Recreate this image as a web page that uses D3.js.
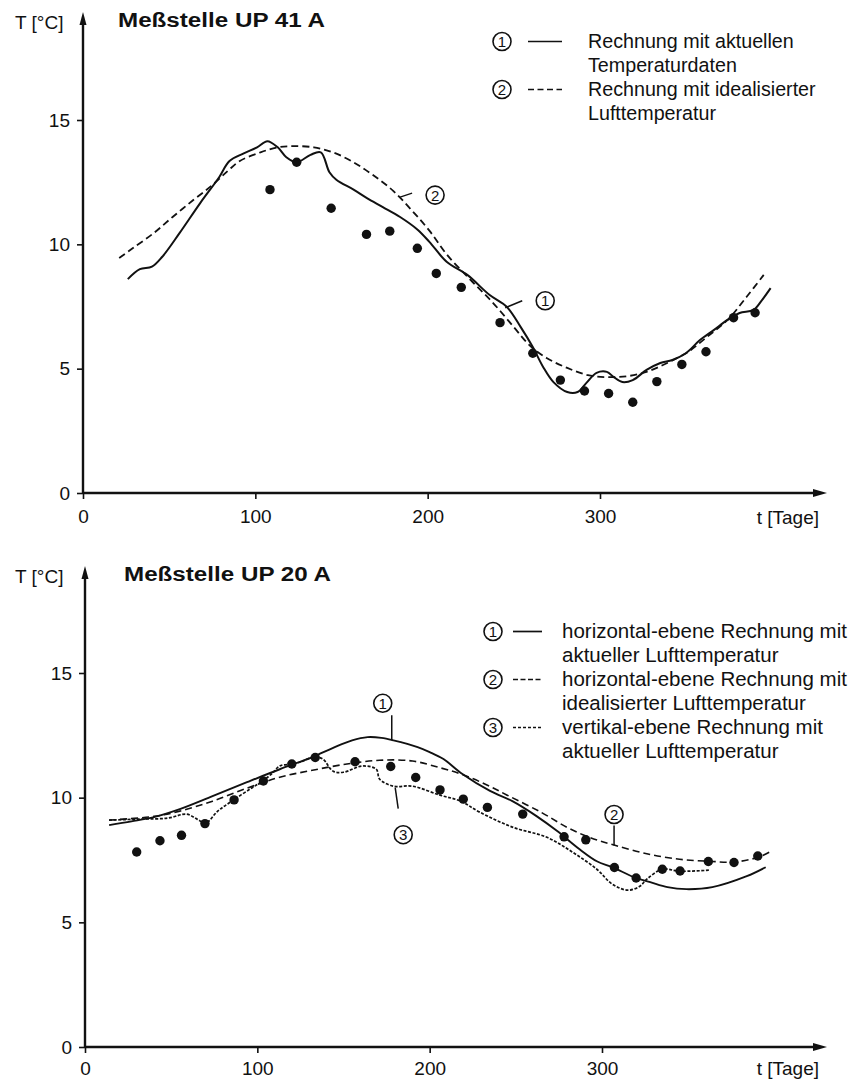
<!DOCTYPE html>
<html lang="de">
<head>
<meta charset="utf-8">
<title>Meßstellen UP 41 A / UP 20 A</title>
<script src="https://cdn.jsdelivr.net/npm/d3@7"></script>
<style>
    body { margin: 0; background: #fff; }
    svg { display: block; }
    text { font-family: "Liberation Sans", Arial, Helvetica, sans-serif; fill: #111; }
</style>
</head>
<body>
<script>
// ---- data (t in Tagen, T in °C) ----

// Meßstelle UP 41 A
var topActual = [[26,8.6],[33,9.0],[40,9.1],[46,9.5],[56,10.45],[68,11.66],[79,12.7],[85,13.35],[93,13.65],
    [101,13.9],[107,14.15],[113,13.9],[118,13.5],[124,13.3],[132,13.6],[138,13.7],[143,12.9],[147,12.6],
    [157,12.2],[165,11.85],[174,11.5],[184,11.1],[194,10.6],[201,10.1],[211,9.3],[223,8.77],[236,7.96],
    [246,7.48],[254,6.67],[261,5.87],[267,5.07],[273,4.46],[281,4.06],[287,4.06],[292,4.42],[298,4.83],
    [304,4.87],[308,4.66],[313,4.46],[319,4.54],[327,4.95],[335,5.23],[342,5.35],[350,5.63],[358,6.15],
    [366,6.55],[374,6.96],[381,7.24],[389,7.36],[394,7.76],[399,8.24]];
var topIdeal = [[21,9.45],[29,9.85],[41,10.45],[52,11.1],[64,11.78],[75,12.38],[84,12.95],[91,13.35],
    [103,13.7],[113,13.9],[122,13.95],[134,13.9],[145,13.7],[157,13.3],[168,12.8],[180,12.15],[191,11.35],
    [201,10.55],[211,9.6],[225,8.56],[238,7.64],[250,6.67],[259,5.95],[269,5.43],[281,5.03],[293,4.74],
    [304,4.66],[316,4.7],[327,4.87],[339,5.23],[351,5.67],[362,6.27],[374,6.96],[385,7.88],[395,8.77]];
var topMeasured = [[108.5,12.2],[124,13.3],[144,11.45],[164.5,10.4],[178,10.53],[194,9.84],[205,8.83],
    [219.5,8.27],[242,6.85],[261,5.62],[277,4.54],[291,4.1],[305,4.0],[319,3.65],[333,4.48],[347.5,5.17],
    [361.5,5.68],[377.5,7.05],[390,7.25]];

// Meßstelle UP 20 A
var botActual = [[14,8.9],[27,9.05],[40,9.22],[55,9.54],[74,10.06],[94,10.62],[113,11.14],[132,11.63],
    [144,12.0],[155,12.3],[164,12.43],[172,12.4],[179,12.3],[193,12.03],[200,11.83],[208,11.55],[219,10.95],
    [235,10.27],[248,9.86],[262,9.26],[274,8.66],[287,7.93],[297,7.45],[306,7.21],[320,6.77],[328,6.61],
    [338,6.41],[349,6.33],[364,6.41],[384,6.85],[395,7.21]];
var botIdeal = [[14,9.1],[40,9.25],[55,9.46],[74,9.86],[94,10.38],[113,10.82],[132,11.1],[152,11.35],
    [171,11.5],[190,11.47],[206,11.2],[218,10.95],[232,10.55],[245,10.1],[265,9.4],[280,8.8],[293,8.4],
    [307,8.1],[326,7.75],[345,7.53],[362,7.45],[377,7.42],[391,7.62],[398,7.85]];
var botVertical = [[14,9.1],[32,9.14],[48,9.18],[59,9.34],[65,9.14],[70,8.98],[77,9.46],[86,9.9],[97,10.4],
    [103,10.66],[109,11.0],[113,11.27],[120,11.35],[125,11.43],[133,11.63],[138,11.55],[144,11.06],[150,11.02],
    [161,11.27],[169,11.14],[171,10.74],[179,10.46],[190,10.46],[206,10.1],[218,9.86],[229,9.42],[248,8.82],
    [268,8.41],[283,7.81],[297,7.13],[306,6.53],[315,6.29],[322,6.45],[326,6.73],[335,7.13],[345,7.05],[362,7.09]];
var botMeasured = [[30,7.82],[43.5,8.27],[56,8.49],[69.6,8.96],[86.5,9.91],[103.5,10.67],[120,11.35],
    [133.6,11.61],[156.7,11.44],[177.4,11.25],[191.9,10.81],[206,10.31],[219.5,9.94],[233.5,9.61],[254,9.34],
    [278,8.43],[290.6,8.31],[307.2,7.2],[319.8,6.78],[335,7.13],[345.3,7.06],[361.7,7.44],[376.6,7.4],[390.4,7.66]];

// ticks and texts
var xTicks = [0, 100, 200, 300];
var yTicks = [0, 5, 10, 15];
var yLabel = "T [°C]";
var xLabel = "t [Tage]";
var topTitle = "Meßstelle UP 41 A";
var botTitle = "Meßstelle UP 20 A";
var topLegend = ["Rechnung mit aktuellen", "Temperaturdaten", "Rechnung mit idealisierter", "Lufttemperatur"];
var botLegend = ["horizontal-ebene Rechnung mit", "aktueller Lufttemperatur",
    "horizontal-ebene Rechnung mit", "idealisierter Lufttemperatur",
    "vertikal-ebene Rechnung mit", "aktueller Lufttemperatur"];

// ---- drawing ----
var w = 853, h = 1081;
var svg = d3.select("body").append("svg").attr("width", w).attr("height", h);

var dash2 = "7,4";   // ② idealisierte Lufttemperatur
var dash3 = "3,1.6"; // ③ vertikal-ebene Rechnung

function circled(g, cx, cy, n) {
    g.append("circle").attr("cx", cx).attr("cy", cy).attr("r", 9)
        .attr("fill", "#fff").attr("stroke", "#111").attr("stroke-width", 1.6);
    g.append("text").attr("x", cx).attr("y", cy + 5.5).attr("text-anchor", "middle")
        .attr("font-size", 15).text(n);
}

function drawPanel(p) {
    var g = svg.append("g");

    var x = d3.scaleLinear().domain([0, 300]).range([p.x0, p.x300]);
    var y = d3.scaleLinear().domain([0, 15]).range([p.y0, p.y15]);

    // x axis with arrow
    g.append("line").attr("x1", p.x0).attr("x2", p.xEnd - 8)
        .attr("y1", p.y0).attr("y2", p.y0).attr("stroke", "#111").attr("stroke-width", 2.4);
    g.append("path").attr("d", "M" + p.xEnd + "," + p.y0 + "l-14,-4l0,8z").attr("fill", "#111");
    var xAxis = d3.axisBottom(x).tickValues(xTicks).tickSize(6).tickPadding(p.xPad);
    var gx = g.append("g").attr("transform", "translate(0," + p.y0 + ")").call(xAxis);
    gx.select(".domain").remove();
    gx.selectAll("line").attr("stroke", "#111").attr("stroke-width", 1.6);
    gx.selectAll("text").attr("font-size", 19).attr("fill", "#111")
        .attr("font-family", "Liberation Sans, Arial, sans-serif");

    // y axis with arrow
    g.append("line").attr("x1", p.x0).attr("x2", p.x0)
        .attr("y1", p.y0).attr("y2", p.yEnd + 8).attr("stroke", "#111").attr("stroke-width", 2.4);
    g.append("path").attr("d", "M" + p.x0 + "," + p.yEnd + "l-3.5,13l7,0z").attr("fill", "#111");
    var yAxis = d3.axisLeft(y).tickValues(yTicks).tickSize(6).tickPadding(7);
    var gy = g.append("g").attr("transform", "translate(" + p.x0 + ",0)").call(yAxis);
    gy.select(".domain").remove();
    gy.selectAll("line").attr("stroke", "#111").attr("stroke-width", 1.6);
    gy.selectAll("text").attr("font-size", 19).attr("fill", "#111")
        .attr("font-family", "Liberation Sans, Arial, sans-serif");

    // axis names and title
    g.append("text").attr("x", 15).attr("y", p.yEnd + 17).attr("font-size", 19).text(yLabel);
    g.append("text").attr("x", p.xEnd - 8).attr("y", p.y0 + p.xLabelDy).attr("text-anchor", "end")
        .attr("font-size", 19).text(xLabel);
    g.append("text").attr("x", p.titleX).attr("y", p.yEnd + 15)
        .attr("font-family", "Liberation Sans, Arial, sans-serif").attr("font-weight", "bold")
        .attr("font-size", 19.5).attr("textLength", 207).attr("lengthAdjust", "spacingAndGlyphs")
        .text(p.title);

    // curves
    var line = d3.line()
        .x(function(d) { return x(d[0]); })
        .y(function(d) { return y(d[1]); })
        .curve(d3.curveCatmullRom.alpha(0.5));

    p.series.forEach(function(s) {
        g.append("path").datum(s.data).attr("d", line)
            .attr("fill", "none").attr("stroke", "#111")
            .attr("stroke-width", s.width).attr("stroke-dasharray", s.dash)
            .attr("stroke-linejoin", "round");
    });

    // measured points
    g.selectAll("circle.pt").data(p.points).enter().append("circle")
        .attr("class", "pt")
        .attr("cx", function(d) { return x(d[0]); })
        .attr("cy", function(d) { return y(d[1]); })
        .attr("r", 4.7).attr("fill", "#111");

    // curve labels with leader lines (anchor in data units)
    p.notes.forEach(function(n) {
        var ax = x(n.at[0]), ay = y(n.at[1]);
        g.append("line").attr("x1", ax).attr("y1", ay)
            .attr("x2", ax + n.lead[0]).attr("y2", ay + n.lead[1])
            .attr("stroke", "#111").attr("stroke-width", 1.5);
        circled(g, ax + n.c[0], ay + n.c[1], n.n);
    });

    // legend
    p.legend.rows.forEach(function(txt, i) {
        g.append("text").attr("x", p.legend.tx).attr("y", p.legend.y + i * p.legend.dy)
            .attr("font-size", p.legend.size).text(txt);
    });
    p.legend.items.forEach(function(it) {
        var cy = p.legend.y + it.row * p.legend.dy - 6.5;
        circled(g, p.legend.cx, cy, it.n);
        g.append("line").attr("x1", p.legend.lx[0]).attr("x2", p.legend.lx[1])
            .attr("y1", cy).attr("y2", cy).attr("stroke", "#111")
            .attr("stroke-width", 1.7).attr("stroke-dasharray", it.dash);
    });
}

drawPanel({
    x0: 83, x300: 600, xEnd: 827, y0: 493, y15: 120, yEnd: 12,
    xPad: 11, xLabelDy: 31, titleX: 118, title: topTitle,
    series: [
        { data: topIdeal, dash: dash2, width: 1.8 },
        { data: topActual, dash: null, width: 2 }
    ],
    points: topMeasured,
    notes: [
        { n: "2", at: [184, 11.9], lead: [12, -4], c: [35, -2] },
        { n: "1", at: [245, 7.45], lead: [17, -7], c: [40, -7] }
    ],
    legend: {
        rows: topLegend, tx: 588, y: 48, dy: 24, size: 19.7, cx: 502, lx: [528, 562],
        items: [{ n: "1", row: 0, dash: null }, { n: "2", row: 2, dash: "6,3.5" }]
    }
});

drawPanel({
    x0: 85, x300: 602, xEnd: 827, y0: 1047, y15: 673, yEnd: 566,
    xPad: 9, xLabelDy: 28, titleX: 124, title: botTitle,
    series: [
        { data: botIdeal, dash: dash2, width: 1.6 },
        { data: botVertical, dash: dash3, width: 1.7 },
        { data: botActual, dash: null, width: 1.9 }
    ],
    points: botMeasured,
    notes: [
        { n: "1", at: [178, 12.3], lead: [0, -25], c: [-9, -37] },
        { n: "3", at: [180, 10.4], lead: [3, 21], c: [8, 47] },
        { n: "2", at: [307, 8.08], lead: [0, -20], c: [0, -31] }
    ],
    legend: {
        rows: botLegend, tx: 562, y: 638, dy: 24, size: 20.5, cx: 493, lx: [513, 542],
        items: [{ n: "1", row: 0, dash: null }, { n: "2", row: 2, dash: "5,2.5" }, { n: "3", row: 4, dash: "3,2" }]
    }
});
</script>
</body>
</html>
